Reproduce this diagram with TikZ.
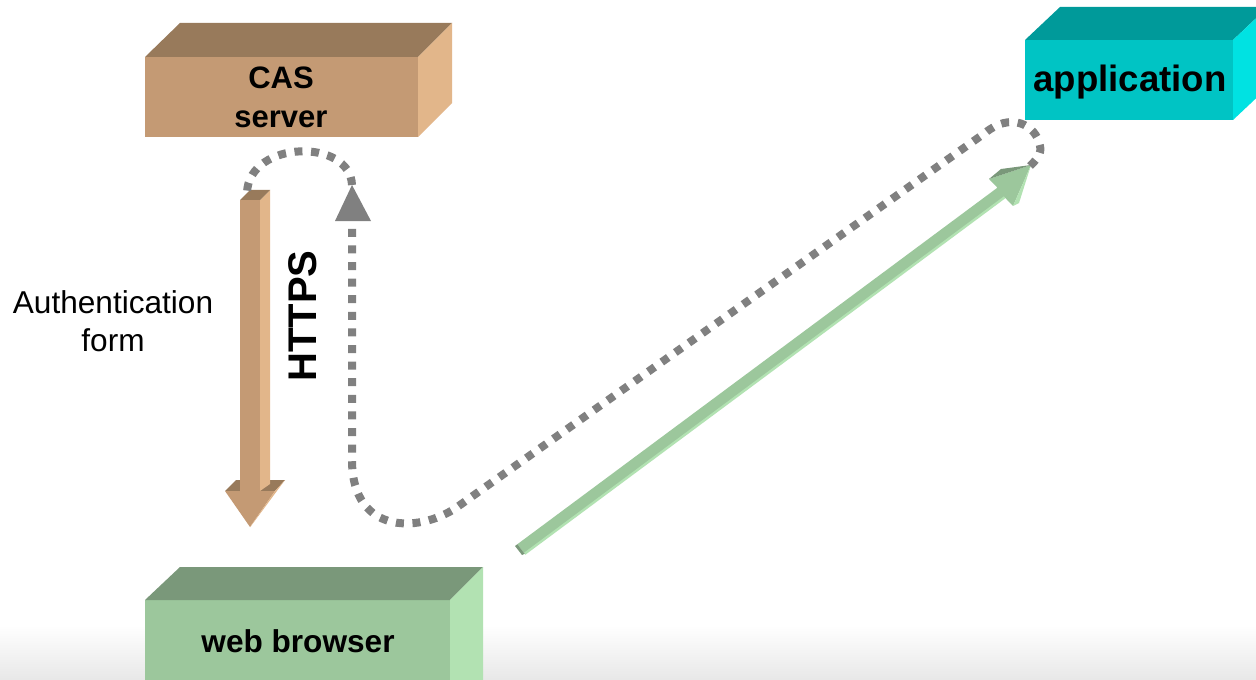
\documentclass[tikz,border=0pt]{standalone}
\usepackage{fontspec}
\setmainfont{Liberation Sans}
\usetikzlibrary{arrows.meta}
\definecolor{casfront}{HTML}{C49A74}
\definecolor{castop}{HTML}{987A5B}
\definecolor{casside}{HTML}{E2B68A}
\definecolor{appfront}{HTML}{00C4C4}
\definecolor{apptop}{HTML}{009A9A}
\definecolor{appside}{HTML}{00E2E2}
\definecolor{webfront}{HTML}{9CC79C}
\definecolor{webtop}{HTML}{7A987A}
\definecolor{webside}{HTML}{B2E2B2}
\definecolor{dotgray}{HTML}{808080}
\definecolor{bgbottom}{HTML}{E8E8E8}
\tikzset{
  boxlabel/.style={font=\bfseries\fontsize{15.5pt}{19.5pt}\selectfont, align=center, inner sep=0pt, text=black},
  plainlabel/.style={font=\fontsize{15.8pt}{19pt}\selectfont, align=center, inner sep=0pt},
  dotline/.style={draw=dotgray, line width=4pt, dash pattern=on 4pt off 4.3pt},
}
\begin{document}
\begin{tikzpicture}[x=0.5pt,y=-0.5pt]
\useasboundingbox (0,0) rectangle (1256,679);
\clip (0,0) rectangle (1256,679);
\fill[white] (0,0) rectangle (1256,679);
\shade[top color=white, bottom color=bgbottom] (0,625) rectangle (1256,679);

% CAS server box
\fill[casfront] (145,57) rectangle (418,137);
\fill[castop] (145,57) -- (180,23) -- (452,23) -- (418,57) -- cycle;
\fill[casside] (418,57) -- (452,23) -- (452,103) -- (418,137) -- cycle;
\node[boxlabel] (cas) at (281,97) {CAS\\server};

% application box
\fill[appfront] (1025,40) rectangle (1233,120);
\fill[apptop] (1025,40) -- (1060,7) -- (1268,7) -- (1233,40) -- cycle;
\fill[appside] (1233,40) -- (1268,7) -- (1268,87) -- (1233,120) -- cycle;
\node[boxlabel, font=\bfseries\fontsize{18.3pt}{22pt}\selectfont] (app) at (1130,82) {application};

% web browser box
\fill[webfront] (145,600) rectangle (450,700);
\fill[webtop] (145,600) -- (180,567) -- (483,567) -- (450,600) -- cycle;
\fill[webside] (450,600) -- (483,567) -- (483,700) -- (450,700) -- cycle;
\node[boxlabel, font=\bfseries\fontsize{15.8pt}{19.5pt}\selectfont] (web) at (298,641) {web browser};

% tan 3D arrow (authentication form)
\coordinate (tantop) at (247,192);
\fill[castop] (225,491) -- (236,480) -- (285,480) -- (275,491) -- cycle;
\fill[casfront] (240,200) rectangle (260,491);
\fill[casside] (260,200) -- (270,190) -- (270,484) -- (260,491) -- cycle;
\fill[castop] (240,200) -- (250,190) -- (270,190) -- (260,200) -- cycle;
\fill[casfront] (225,491) -- (275,491) -- (250,527) -- cycle;
\fill[casside] (275,491) -- (285,480) -- (251,526) -- (250,527) -- cycle;

\node[plainlabel] (authform) at (113,321) {Authentication\\form};
\node[boxlabel, font=\bfseries\fontsize{20pt}{22pt}\selectfont, rotate=90] (https) at (303,316) {HTTPS};

% green 3D arrow browser -> application
\fill[webfront] (517.4,544.2) -- (997.4,187.7) -- (989,179) -- (1031,165) -- (1013,206) -- (1004.6,197.3) -- (524.6,553.8) -- cycle;
\draw[webside, line width=1.2pt] (524.6,553.8) -- (1004.6,197.3);
\fill[webtop] (989,179) -- (1001,169) -- (1031,165) -- cycle;
\fill[webside] (1013,206) -- (1031,165) -- (1019,203) -- cycle;
\fill[webtop] (517.4,544.2) -- (524.6,553.8) -- (522,555) -- (515,546) -- cycle;

% dotted HTTPS redirect path
\coordinate (append) at (1030,166);
\coordinate (headtip) at (352,185);
\draw[dotline] (append) .. controls (1036,160) and (1042,154) .. (1040,146)
  .. controls (1036,124) and (1010,112) .. (985,133)
  -- (460,505)
  .. controls (423,533) and (352,537) .. (352,460)
  -- (352,221);
\fill[dotgray] (335,221) -- (371,221) -- (headtip) -- cycle;
\draw[dotline] (headtip) .. controls (350,138) and (250,140) .. (tantop);
\end{tikzpicture}
\end{document}
